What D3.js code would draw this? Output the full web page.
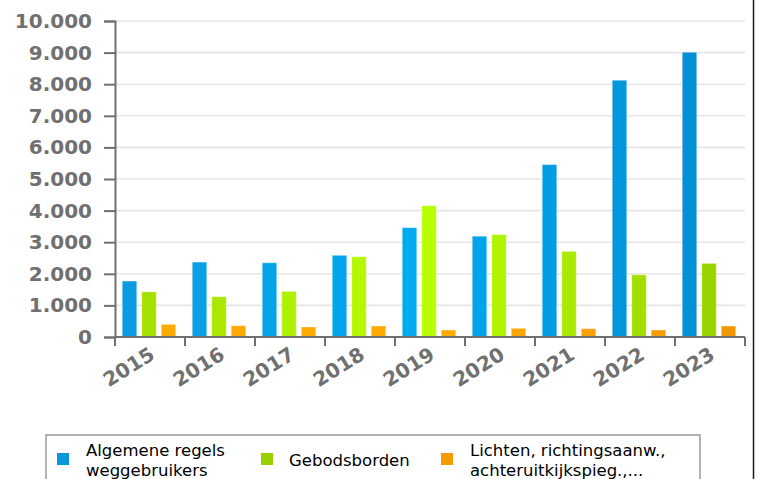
<!DOCTYPE html>
<html><head><meta charset="utf-8">
<script src="https://cdn.jsdelivr.net/npm/d3@7"></script>
<style>
html,body{margin:0;padding:0;background:#fff;}
svg{display:block;font-family:"DejaVu Sans",Verdana,sans-serif;}
</style></head>
<body>
<svg id="chart" width="758" height="479"></svg>
<script>
const years = ["2015","2016","2017","2018","2019","2020","2021","2022","2023"];
const seriesNames = [
  ["Algemene regels","weggebruikers"],
  ["Gebodsborden"],
  ["Lichten, richtingsaanw.,","achteruitkijkspieg.,..."]
];
const algemene = [1770, 2370, 2350, 2585, 3460, 3190, 5455, 8125, 9010];
const gebods   = [1430, 1275, 1445, 2540, 4155, 3240, 2710, 1970, 2330];
const lichten  = [400, 358, 316, 348, 222, 275, 263, 222, 348];
const yTicks = [0,1000,2000,3000,4000,5000,6000,7000,8000,9000,10000];

const legendColors = ["#0a96d8","#99d000","#f59b00"];
const ramps = [
  ["#0a9be0","#00aaf0","#0090d6"],
  ["#a6e000","#b8ff00","#9ad400"],
  ["#ffaa00","#ffaa00","#f09800"]
];
const series = [algemene, gebods, lichten];

const svg = d3.select("#chart");
const pLeft = 115, pRight = 745, pTop = 21, pBottom = 337;

const x = d3.scaleBand().domain(years).range([pLeft, pRight]).paddingInner(0).paddingOuter(0);
const y = d3.scaleLinear().domain([0, 10000]).range([pBottom, pTop]);
const xs = d3.scaleBand().domain([0,1,2]).range([-1, x.bandwidth() - 1]).paddingInner(0.256).paddingOuter(0.423);

const fmt = v => d3.format(",")(v).replace(/,/g, ".");

svg.append("g").selectAll("line").data(yTicks.filter(d => d > 0)).join("line")
  .attr("x1", pLeft).attr("x2", pRight)
  .attr("y1", d => y(d)).attr("y2", d => y(d))
  .attr("stroke", "#e6e6e6").attr("stroke-width", 1.6);

series.forEach((vals, si) => {
  const ramp = d3.scaleLinear().domain([0, 4, 8]).range(ramps[si]).interpolate(d3.interpolateRgb);
  svg.append("g").selectAll("rect").data(vals).join("rect")
    .attr("x", (d, i) => x(years[i]) + xs(si))
    .attr("width", xs.bandwidth())
    .attr("y", d => y(d))
    .attr("height", d => pBottom - y(d))
    .attr("fill", (d, i) => ramp(i))
    .attr("stroke", "rgba(255,255,255,0.35)").attr("stroke-width", 1);
});

const yAxis = d3.axisLeft(y).tickValues(yTicks).tickFormat(fmt).tickSize(11).tickPadding(12);
const gy = svg.append("g").attr("transform", `translate(${pLeft},0)`).call(yAxis);
gy.select(".domain").attr("stroke", "#707070").attr("stroke-width", 2);
gy.selectAll(".tick line").attr("stroke", "#707070").attr("stroke-width", 2);
gy.selectAll(".tick text").attr("fill", "#707070").attr("font-size", 20).attr("font-weight", "bold")
  .attr("font-family", "DejaVu Sans");

const gx = svg.append("g").attr("transform", `translate(0,${pBottom})`);
gx.append("line").attr("x1", pLeft).attr("x2", pRight).attr("y1", 0).attr("y2", 0)
  .attr("stroke", "#707070").attr("stroke-width", 2);
const bounds = years.map(yv => x(yv)).concat([pRight]);
gx.selectAll("line.tk").data(bounds).join("line").attr("class", "tk")
  .attr("x1", d => d).attr("x2", d => d).attr("y1", 0).attr("y2", 9)
  .attr("stroke", "#707070").attr("stroke-width", 2);
gx.selectAll("text").data(years).join("text")
  .attr("transform", d => `translate(${x(d) + x.bandwidth()/2 + 6},${21}) rotate(-32)`)
  .attr("text-anchor", "end")
  .attr("fill", "#707070").attr("font-size", 20).attr("font-weight", "bold")
  .text(d => d);

svg.append("line").attr("x1", 753.5).attr("x2", 753.5).attr("y1", 0).attr("y2", 479)
  .attr("stroke", "#1a1a1a").attr("stroke-width", 1.5);

const lg = svg.append("g");
lg.append("rect").attr("x", 46).attr("y", 435).attr("width", 654).attr("height", 60)
  .attr("fill", "none").attr("stroke", "#9a9a9a").attr("stroke-width", 1.5);
const legendX = [57, 261, 441];
seriesNames.forEach((lines, i) => {
  const g = lg.append("g");
  g.append("rect").attr("x", legendX[i]).attr("y", 453).attr("width", 12).attr("height", 12)
    .attr("fill", legendColors[i]);
  const t = g.append("text").attr("font-size", 16.5).attr("fill", "#000");
  if (lines.length === 1) {
    t.append("tspan").attr("x", legendX[i] + 28).attr("y", 466).text(lines[0]);
  } else {
    lines.forEach((l, j) => t.append("tspan").attr("x", legendX[i] + 29).attr("y", 456 + j * 19.5).text(l));
  }
});
</script>
</body></html>
